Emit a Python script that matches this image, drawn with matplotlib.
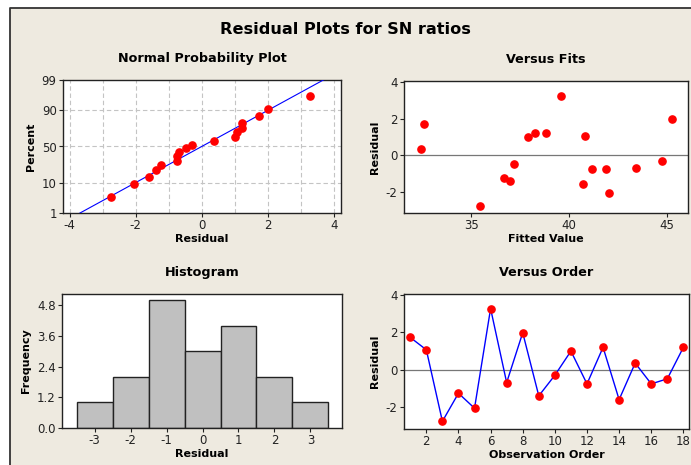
from statistics import NormalDist

import matplotlib
matplotlib.use("Agg")
import matplotlib.pyplot as plt
import numpy as np
from matplotlib.lines import Line2D
from matplotlib.patches import Rectangle

# residuals in observation order, and the fitted values that go with them
obs_order = list(range(1, 19))
residuals = [1.73, 1.07, -2.75, -1.25, -2.05, 3.27, -0.68, 1.98, -1.39,
             -0.29, 1.00, -0.75, 1.20, -1.59, 0.36, -0.75, -0.48, 1.20]
fitted = [32.56, 40.81, 35.44, 36.67, 42.04, 39.57, 43.40, 45.26, 36.99,
          44.74, 37.90, 41.17, 38.24, 40.69, 32.43, 41.87, 37.16, 38.83]

# histogram bins (centres) and counts
hist_centres = [-3, -2, -1, 0, 1, 2, 3]
hist_counts = [1, 2, 5, 3, 4, 2, 1]

prob_ticks = [1, 10, 50, 90, 99]
hist_yticks = [0.0, 1.2, 2.4, 3.6, 4.8]

W, H = 691, 465
BG = "#eeeae0"
RED = "#ff0000"
BLUE = "#0000ff"

plt.rcParams["font.family"] = "DejaVu Sans"
plt.rcParams["font.size"] = 8
plt.rcParams["axes.unicode_minus"] = False

fig = plt.figure(figsize=(W / 100, H / 100), dpi=100, facecolor="white")
x0, y1 = 9.5 / W, 1 - 8.5 / H
fig.patches.append(Rectangle((x0, 0), 1 - x0, y1, transform=fig.transFigure,
                             facecolor=BG, edgecolor="none", zorder=-5))
fig.lines.append(Line2D([x0, x0, 1], [0, y1, y1], transform=fig.transFigure,
                        color="#333333", linewidth=1.3))


def px_axes(left, top, right, bottom):
    ax = fig.add_axes([left / W, 1 - bottom / H, (right - left) / W, (bottom - top) / H])
    ax.set_facecolor("white")
    for s in ax.spines.values():
        s.set_linewidth(1.0)
        s.set_color("#222222")
    ax.tick_params(direction="out", length=3, width=0.8, labelsize=8.5,
                   colors="#222222", pad=1.5)
    return ax


def style(ax, title, xlabel, ylabel):
    ax.set_title(title, fontsize=9.2, fontweight="bold", pad=13)
    ax.set_xlabel(xlabel, fontsize=8, fontweight="bold", labelpad=1)
    ax.set_ylabel(ylabel, fontsize=8, fontweight="bold", labelpad=4)


fig.text(0.5, 1 - 29 / H, "Residual Plots for SN ratios", ha="center", va="center",
         fontsize=11.6, fontweight="bold")

# --- normal probability plot ---
nd = NormalDist()
res = np.array(residuals)
n = len(res)
srt = np.sort(res)
pct = (np.arange(1, n + 1) - 0.3) / (n + 0.4)
z = np.array([nd.inv_cdf(p) for p in pct])
mu, sd = res.mean(), res.std(ddof=1)

ax1 = px_axes(63, 80, 341, 213)
zlo, zhi = nd.inv_cdf(0.01), nd.inv_cdf(0.99)
ax1.set_xlim(-4.2, 4.2)
ax1.set_ylim(zlo, zhi)
xs = np.linspace(-4.2, 4.2, 50)
ax1.plot(xs, (xs - mu) / sd, color=BLUE, linewidth=0.8, zorder=3)
ax1.plot(srt, z, "o", color=RED, markersize=5.2, zorder=4)
ax1.set_xticks([-4, -2, 0, 2, 4])
ax1.set_yticks([nd.inv_cdf(p / 100) for p in prob_ticks])
ax1.set_yticklabels([str(p) for p in prob_ticks])
for xv in np.arange(-4, 5):
    ax1.axvline(xv, color="#c4c4c4", linestyle=(0, (4, 2.5)), linewidth=0.8, zorder=1)
for p in [10, 50, 90]:
    ax1.axhline(nd.inv_cdf(p / 100), color="#c4c4c4", linestyle=(0, (4, 2.5)),
                linewidth=0.8, zorder=1)
style(ax1, "Normal Probability Plot", "Residual", "Percent")

# --- versus fits ---
ax2 = px_axes(404, 81, 688, 213)
ax2.axhline(0, color="#777777", linewidth=0.9, zorder=1)
ax2.plot(fitted, residuals, "o", color=RED, markersize=5.2, zorder=3)
ax2.set_xlim(31.56, 46.07)
ax2.set_ylim(-3.16, 4.07)
ax2.set_xticks([35, 40, 45])
ax2.set_yticks([-2, 0, 2, 4])
style(ax2, "Versus Fits", "Fitted Value", "Residual")

# --- histogram ---
ax3 = px_axes(62, 294, 342, 428)
ax3.bar(hist_centres, hist_counts, width=1.0, color="#c0c0c0",
        edgecolor="#222222", linewidth=1.0)
ax3.set_xlim(-3.91, 3.88)
ax3.set_ylim(0, 5.25)
ax3.set_xticks(hist_centres)
ax3.set_yticks(hist_yticks)
ax3.set_yticklabels(["%.1f" % v for v in hist_yticks])
style(ax3, "Histogram", "Residual", "Frequency")

# --- versus order ---
ax4 = px_axes(404, 294, 689, 429)
ax4.axhline(0, color="#777777", linewidth=0.9, zorder=1)
ax4.plot(obs_order, residuals, "-", color=BLUE, linewidth=1.0, zorder=2)
ax4.plot(obs_order, residuals, "o", color=RED, markersize=5.2, zorder=3)
ax4.set_xlim(0.61, 18.35)
ax4.set_ylim(-3.16, 4.05)
ax4.set_xticks(range(2, 19, 2))
ax4.set_yticks([-2, 0, 2, 4])
style(ax4, "Versus Order", "Observation Order", "Residual")

fig.savefig("out.png", dpi=100, facecolor=fig.get_facecolor())
